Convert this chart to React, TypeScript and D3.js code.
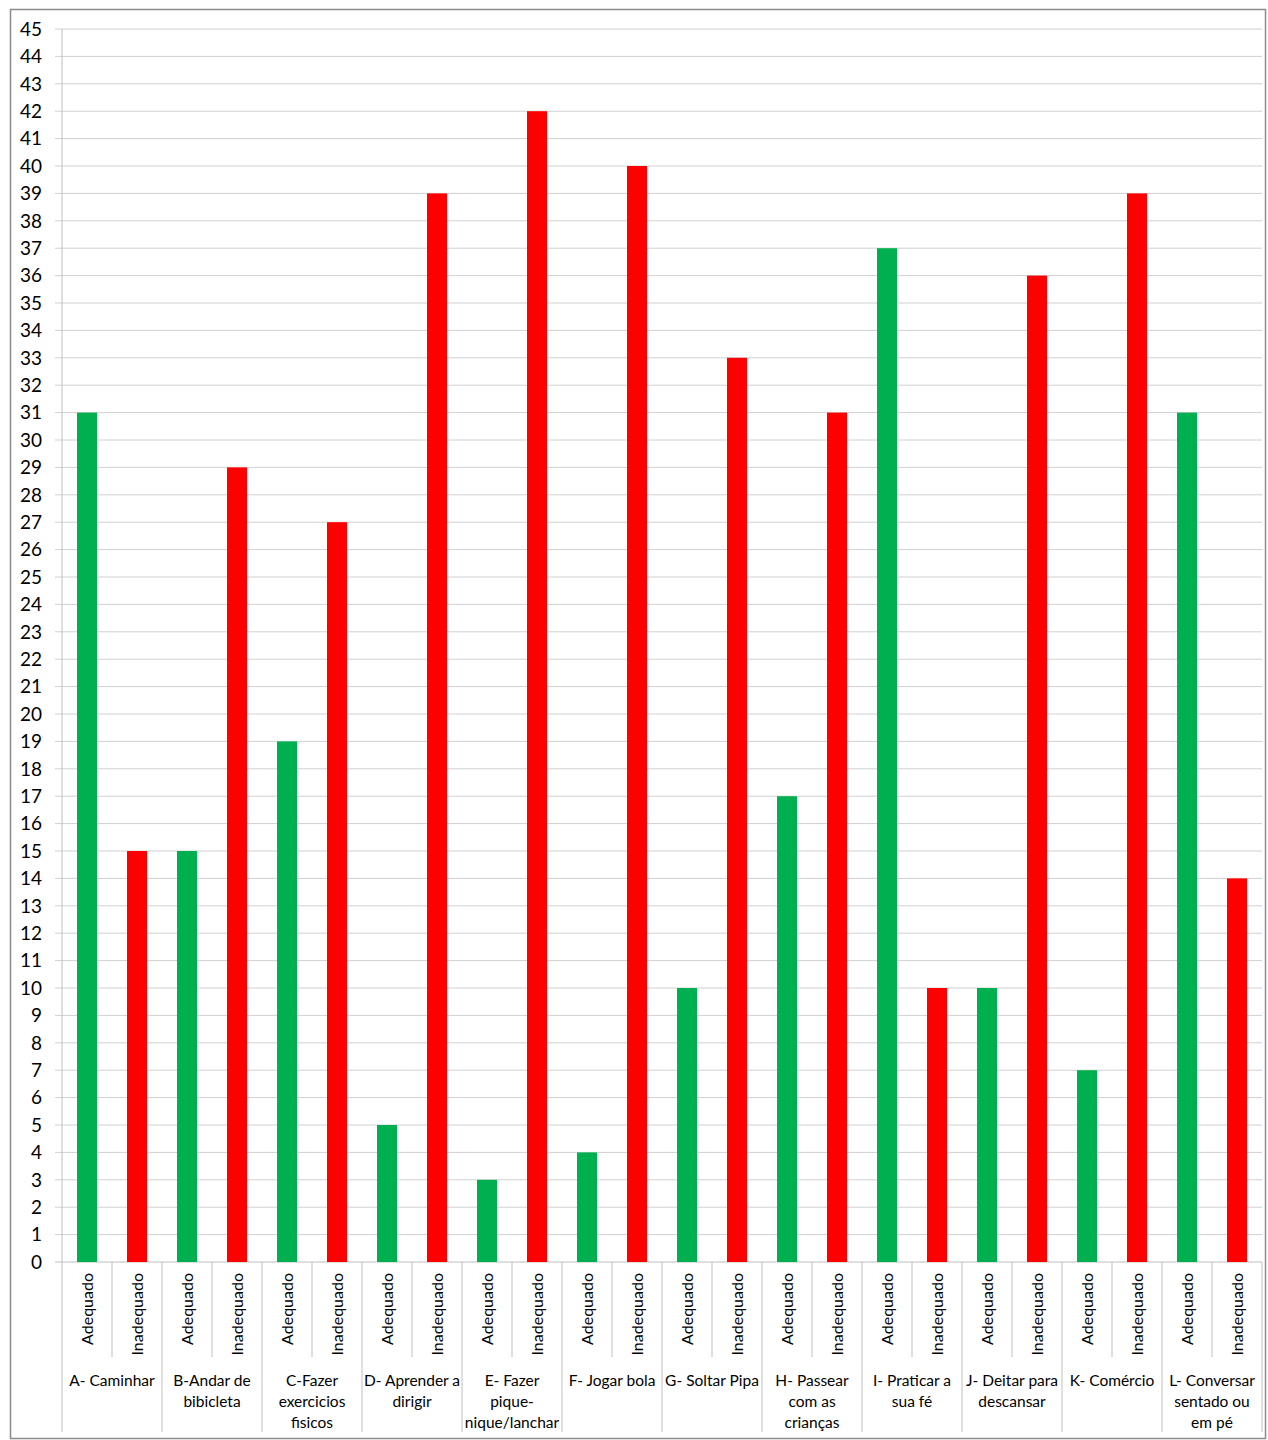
import React from 'react';
import * as d3 from 'd3';

const categories = [
  ['A- Caminhar'],
  ['B-Andar de', 'bibicleta'],
  ['C-Fazer', 'exercicios', 'fisicos'],
  ['D- Aprender a', 'dirigir'],
  ['E- Fazer', 'pique-', 'nique/lanchar'],
  ['F- Jogar bola'],
  ['G- Soltar Pipa'],
  ['H- Passear', 'com as', 'crianças'],
  ['I- Praticar a', 'sua fé'],
  ['J- Deitar para', 'descansar'],
  ['K- Comércio'],
  ['L- Conversar', 'sentado ou', 'em pé'],
];
const adequado = [31, 15, 19, 5, 3, 4, 10, 17, 37, 10, 7, 31];
const inadequado = [15, 29, 27, 39, 42, 40, 33, 31, 10, 36, 39, 14];
const subLabels = ['Adequado', 'Inadequado'];
const yTicks = d3.range(0, 46);

const GREEN = '#00b050';
const RED = '#ff0000';
const FONT = 'Lato, "Open Sans", sans-serif';

export default function App() {
  const left = 62, right = 1262, top = 29, bottom = 1262;

  const bars = categories.flatMap((c, i) => [
    { key: `${i}-a`, label: subLabels[0], value: adequado[i], color: GREEN },
    { key: `${i}-i`, label: subLabels[1], value: inadequado[i], color: RED },
  ]);

  const x = d3.scaleBand<string>()
    .domain(bars.map(b => b.key))
    .range([left, right])
    .paddingInner(0.6)
    .paddingOuter(0.3);
  const step = x.step();
  const y = d3.scaleLinear().domain([0, 45]).range([bottom, top]);

  return (
    <svg width={1268} height={1440} style={{ position: 'absolute', left: 0, top: 0, background: '#fff' }}
      fontFamily={FONT}>
      <rect x={10.5} y={9.5} width={1255} height={1429} fill="#fff" stroke="#8c8c8c" strokeWidth={1.5} />
      {yTicks.map(t => (
        <g key={t}>
          <line x1={55} x2={right} y1={y(t)} y2={y(t)} stroke={t === 0 ? '#bfbfbf' : '#d0d0d0'} strokeWidth={1} />
          <text x={42} y={y(t)} dy="0.36em" textAnchor="end" fontSize={19} fill="#000">{t}</text>
        </g>
      ))}
      <line x1={left} x2={left} y1={top} y2={bottom} stroke="#bfbfbf" />
      {bars.map(b => (
        <rect key={b.key} x={x(b.key)} y={y(b.value)} width={x.bandwidth()} height={bottom - y(b.value)} fill={b.color} />
      ))}
      {d3.range(0, bars.length + 1).map(i => (
        <line key={`sep${i}`} x1={left + i * step} x2={left + i * step} y1={bottom}
          y2={i % 2 === 0 ? 1432 : 1357} stroke="#bfbfbf" />
      ))}
      {bars.map(b => {
        const cx = (x(b.key) as number) + x.bandwidth() / 2;
        return (
          <text key={`l${b.key}`} transform={`translate(${cx},1273) rotate(-90)`} dy="0.36em"
            textAnchor="end" fontSize={16} fill="#000">{b.label}</text>
        );
      })}
      {categories.map((lines, i) => {
        const cx = left + (i * 2 + 1) * step;
        return (
          <text key={`c${i}`} textAnchor="middle" fontSize={15.5} fill="#000">
            {lines.map((ln, j) => (
              <tspan key={j} x={cx} y={1386 + j * 21}>{ln}</tspan>
            ))}
          </text>
        );
      })}
    </svg>
  );
}
